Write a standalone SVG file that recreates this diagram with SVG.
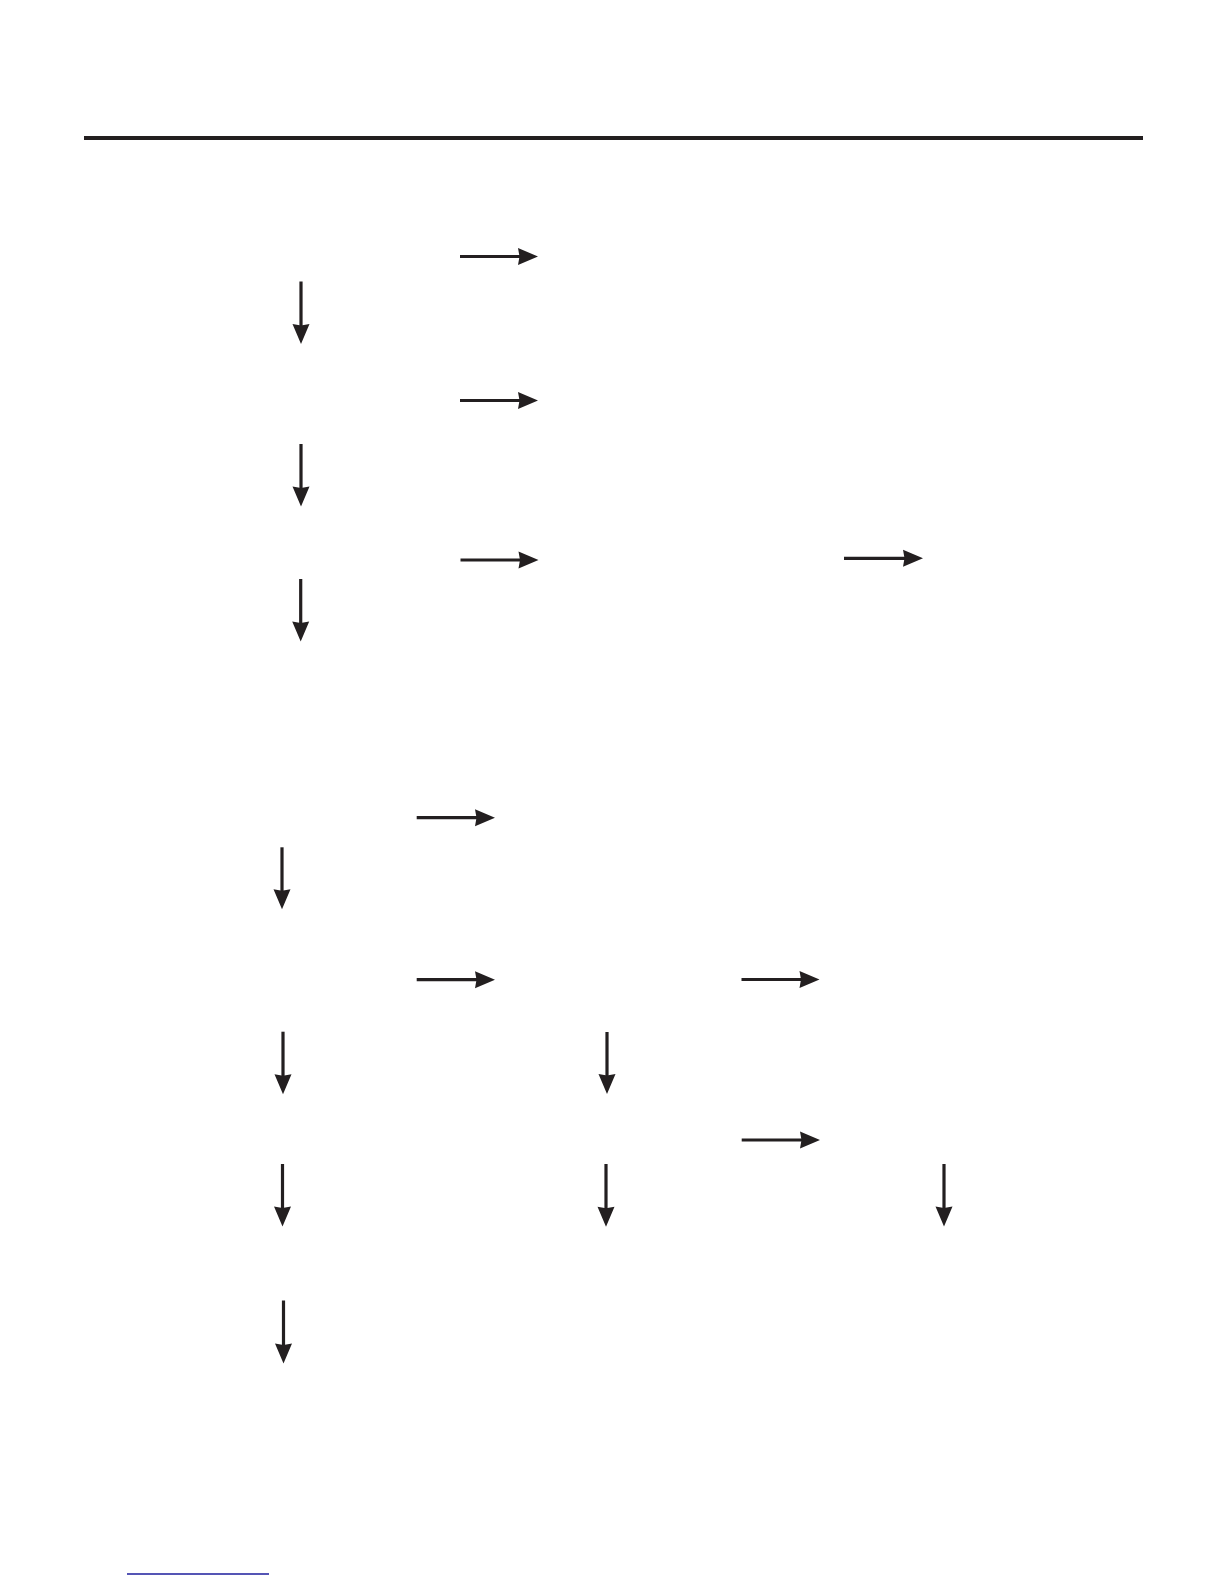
<svg xmlns="http://www.w3.org/2000/svg" width="1224" height="1584" viewBox="0 0 1224 1584">
  <style>
    .conn { stroke: #231f20; stroke-width: 3.2; fill: none; marker-end: url(#ah); }
    .rule { stroke: #231f20; stroke-width: 4; }
    .link { stroke: #1c1c9c; stroke-width: 1.6; }
  </style>
  <defs>
    <marker id="ah" markerUnits="userSpaceOnUse" markerWidth="22" markerHeight="18" refX="8" refY="8.5" orient="auto" overflow="visible">
      <path d="M0,0 L20,8.5 L0,17 L1.5,8.5 Z" fill="#231f20"/>
    </marker>
  </defs>
  <rect width="1224" height="1584" fill="#ffffff"/>
  <line class="rule" x1="84" y1="138" x2="1143" y2="138"/>
  <g id="connectors">
    <line class="conn" x1="460" y1="256.5" x2="526" y2="256.5"/>
    <line class="conn" x1="301" y1="281.5" x2="301" y2="332"/>
    <line class="conn" x1="460" y1="400.5" x2="526" y2="400.5"/>
    <line class="conn" x1="301" y1="444" x2="301" y2="494.5"/>
    <line class="conn" x1="460.5" y1="560" x2="526.5" y2="560"/>
    <line class="conn" x1="844" y1="558.3" x2="911" y2="558.3"/>
    <line class="conn" x1="300.7" y1="579" x2="300.7" y2="629.5"/>
    <line class="conn" x1="416.7" y1="817.7" x2="483" y2="817.7"/>
    <line class="conn" x1="282" y1="847.3" x2="282" y2="897.3"/>
    <line class="conn" x1="416.7" y1="979.7" x2="483" y2="979.7"/>
    <line class="conn" x1="741.5" y1="979.5" x2="807.5" y2="979.5"/>
    <line class="conn" x1="283" y1="1031.7" x2="283" y2="1082.3"/>
    <line class="conn" x1="607" y1="1032" x2="607" y2="1082"/>
    <line class="conn" x1="741.7" y1="1140" x2="808" y2="1140"/>
    <line class="conn" x1="282.5" y1="1164" x2="282.5" y2="1214.5"/>
    <line class="conn" x1="606" y1="1164" x2="606" y2="1214.7"/>
    <line class="conn" x1="944" y1="1164" x2="944" y2="1214.5"/>
    <line class="conn" x1="283.5" y1="1300.5" x2="283.5" y2="1351.5"/>
  </g>
  <line class="link" x1="127" y1="1574" x2="269" y2="1574"/>
</svg>
